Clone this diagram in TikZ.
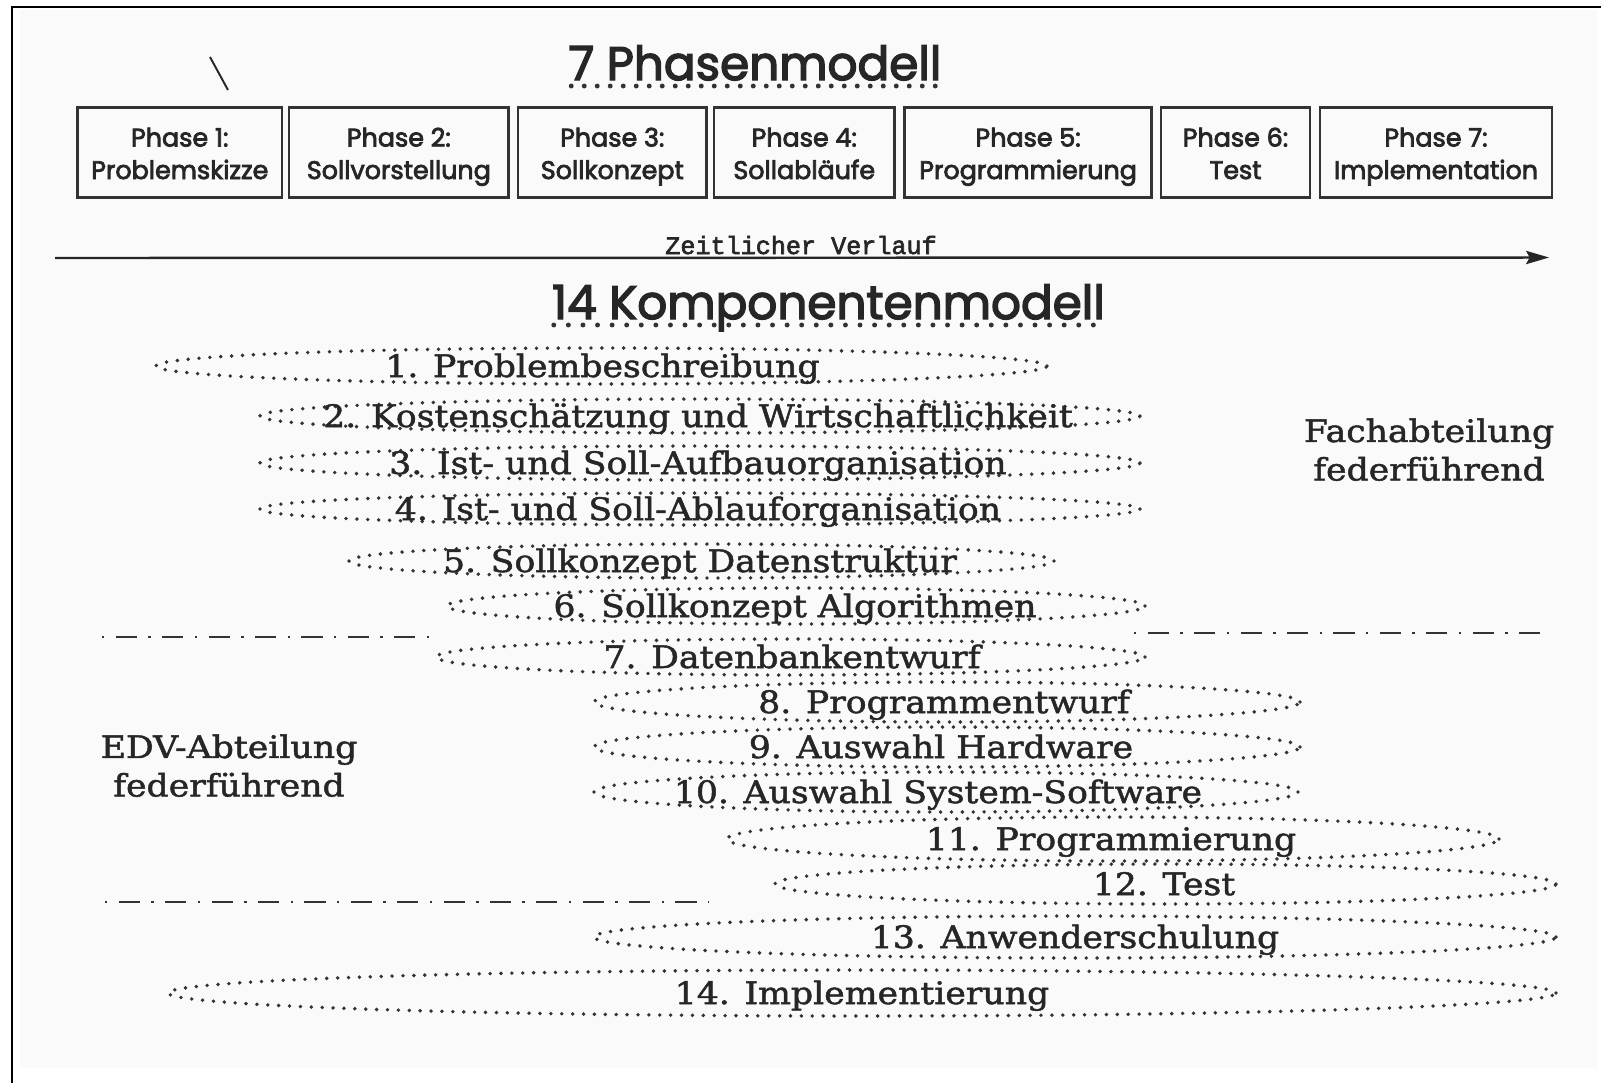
\documentclass[tikz,border=0pt]{standalone}
\usepackage{fontspec}
\setmainfont{DejaVu Serif}[FakeStretch=1.12,FakeBold=1.6]
\newfontfamily\geofont{Poppins}[FakeBold=3]
\newfontfamily\typefont{Liberation Mono}[FakeBold=2.4]
\usetikzlibrary{arrows.meta,calc}
\newdimen\pxu
\pxu=0.02cm

\begin{document}
\begin{tikzpicture}[x=0.02cm,y=-0.02cm,
  frameline/.style={draw=black,line width=1.6pt},
  phasebox/.style={draw=black!80,line width=1.6pt,minimum height=1.8cm,inner sep=0pt},
  phasetext/.style={text=black!85,align=center,inner sep=0pt,
    font={\geofont\fontsize{14.45pt}{18.5pt}\selectfont}},
  titletext/.style={text=black!85,anchor=base,inner sep=0pt,
    font={\geofont\fontsize{26.7pt}{30pt}\selectfont}},
  titledots/.style={draw=black!80,line width=2.8pt,line cap=round,dash pattern=on 0pt off #1},
  timeline/.style={draw=black!85,line width=1.4pt,-{Stealth[length=13pt,width=7.5pt,inset=2pt]}},
  timetext/.style={text=black!85,anchor=base,inner sep=0pt,
    font={\typefont\fontsize{14.3pt}{16pt}\selectfont}},
  compdots/.style={draw=black!80,line width=2.2pt,line cap=round,dash pattern=on 0pt off 6.2pt},
  comptext/.style={text=black!85,anchor=base,inner sep=0pt,
    font={\fontsize{17.6pt}{21pt}\selectfont}},
  sidetext/.style={text=black!85,align=center,inner sep=0pt,
    font={\fontsize{17.6pt}{21.9pt}\selectfont}},
  divider/.style={draw=black!80,line width=1.2pt,dash pattern=on 1.4pt off 6.5pt on 12pt off 6.5pt}
]
\useasboundingbox (0,0) rectangle (1601,1083);
\fill[black!2] (20,10) rectangle (1597,1068);

% page frame (top and left edge)
\coordinate (fc) at (12,7);
\coordinate (fr) at (1601,7);
\coordinate (fb) at (12,1083);
\draw[frameline] (fr) -- (fc) -- (fb);

% stray pen stroke
\coordinate (s1) at (210,57);
\coordinate (s2) at (228,90);
\draw[black!85,line width=1.1pt] (s1) -- (s2);

% ---- 7 Phasenmodell ----
\node[titletext] (t7) at (755,80) {7 Phasenmodell};
\draw[titledots=7.4pt] ($(t7.base west)+(3,6)$) -- ($(t7.base east)+(0,6)$);

\node[phasebox,minimum width=4.088cm] (p1) at (179.8,152.5) {};
\node[phasebox,minimum width=4.394cm] (p2) at (398.85,152.5) {};
\node[phasebox,minimum width=3.772cm] (p3) at (612.3,152.5) {};
\node[phasebox,minimum width=3.61cm]  (p4) at (804.25,152.5) {};
\node[phasebox,minimum width=4.936cm] (p5) at (1028.1,152.5) {};
\node[phasebox,minimum width=2.98cm]  (p6) at (1235.5,152.5) {};
\node[phasebox,minimum width=4.64cm]  (p7) at (1436,152.5) {};

\node[phasetext] (p1t) at (179.8,156.25) {\strut Phase 1:\\\strut Problemskizze};
\node[phasetext] (p2t) at (398.85,156.25) {\strut Phase 2:\\\strut Sollvorstellung};
\node[phasetext] (p3t) at (612.3,156.25) {\strut Phase 3:\\\strut Sollkonzept};
\node[phasetext] (p4t) at (804.25,156.25) {\strut Phase 4:\\\strut Sollabläufe};
\node[phasetext] (p5t) at (1028.1,156.25) {\strut Phase 5:\\\strut Programmierung};
\node[phasetext] (p6t) at (1235.5,156.25) {\strut Phase 6:\\\strut Test};
\node[phasetext] (p7t) at (1436,156.25) {\strut Phase 7:\\\strut Implementation};

% ---- time axis ----
\coordinate (ta) at (55,258);
\coordinate (tb) at (1549,257.5);
\draw[timeline] (ta) -- (tb);
\node[timetext] (tt) at (801,254) {Zeitlicher Verlauf};

% ---- 14 Komponentenmodell ----
\node[titletext] (t14) at (828.5,319) {14 Komponentenmodell};
\draw[titledots=8.3pt] ($(t14.base west)+(2,6)$) -- ($(t14.base east)+(0,6)$);

\foreach \n/\ex/\rx/\ry/\tx/\bl/\txt in {
  1/601.5/445.5/18/602.5/377/{1. Problembeschreibung},
  2/700/440/17/698/427/{2. Kostenschätzung und Wirtschaftlichkeit},
  3/700/440/17/698/474/{3. Ist- und Soll-Aufbauorganisation},
  4/700/440/16/698/520/{4. Ist- und Soll-Ablauforganisation},
  5/701.5/352.5/17/700/572/{5. Sollkonzept Datenstruktur},
  6/796/349/18/795/617/{6. Sollkonzept Algorithmen},
  7/790.5/354.5/18/792/668/{7. Datenbankentwurf},
  8/947/353/20/944/713/{8. Programmentwurf},
  9/947/353/20/941/758/{9. Auswahl Hardware},
  10/946/352/20/938/803/{10. Auswahl System-Software},
  11/1113/386/22/1111/850/{11. Programmierung},
  12/1165.5/390.5/20/1164/895/{12. Test},
  13/1075/481/21/1075/948/{13. Anwenderschulung},
  14/862/694/23/862/1004/{14. Implementierung}}
{
  \draw[compdots] (\ex,\bl-11) ellipse [x radius=\rx\pxu, y radius=\ry\pxu];
  \node[comptext] (c\n) at (\tx,\bl) {\txt};
}

% responsibility areas
\node[sidetext] (fach) at (1429,453.5) {\strut Fachabteilung\\\strut federführend};
\node[sidetext] (edv) at (229,769.5) {\strut EDV-Abteilung\\\strut federführend};

\coordinate (d1a) at (102,637);
\coordinate (d1b) at (436,637);
\coordinate (d2a) at (1134,633);
\coordinate (d2b) at (1551,633);
\coordinate (d3a) at (105,902);
\coordinate (d3b) at (709,902);
\draw[divider] (d1a) -- (d1b);
\draw[divider] (d2a) -- (d2b);
\draw[divider] (d3a) -- (d3b);
\end{tikzpicture}
\end{document}
